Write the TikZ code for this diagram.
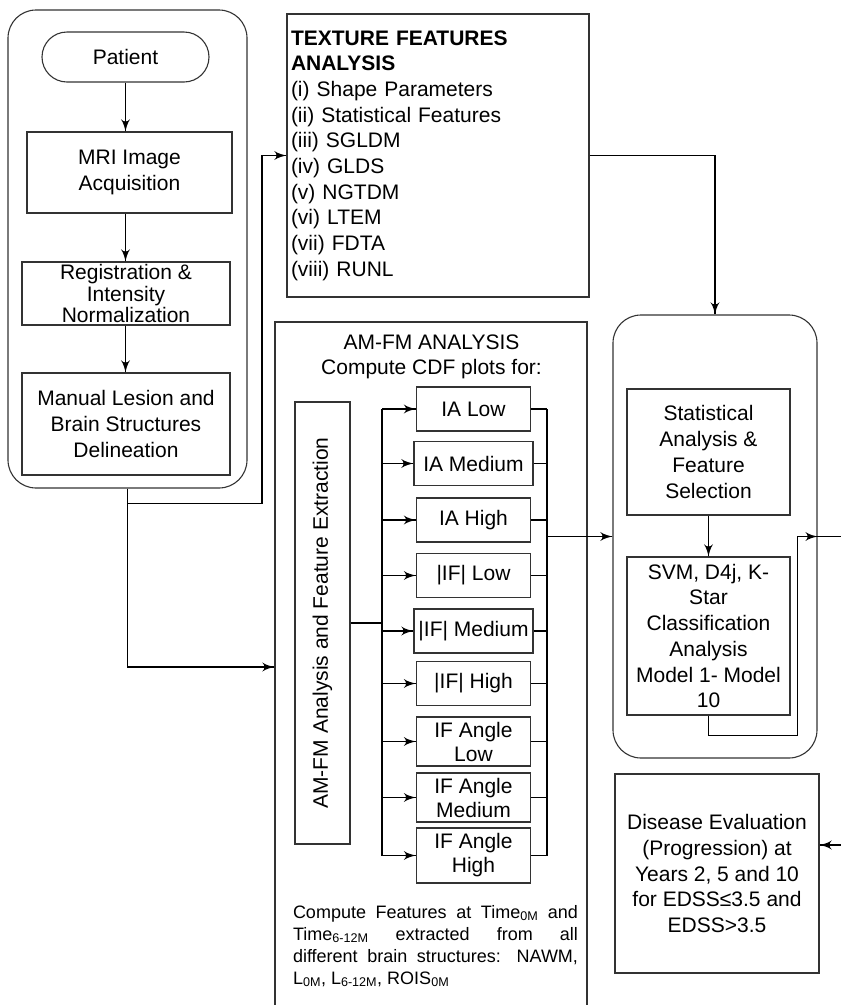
\documentclass[tikz,border=0pt]{standalone}
\usepackage{fontspec}
\setmainfont{Liberation Sans}
\usepackage{tikz}
\usetikzlibrary{arrows}
\usetikzlibrary{decorations.markings}
\usetikzlibrary{positioning}
\tikzset{->/.style = {decoration={markings,
                                  mark=at position 1 with {\arrow[scale=2]{latex'}}},
                      postaction={decorate}}}
\tikzset{block/.style = {draw = black!80, rectangle, align = center, inner sep = 2,
                         font = \fontsize{21}{25.7}\selectfont}}
\tikzset{group/.style = {draw = black!80, rectangle, rounded corners = 28}}
\tikzset{cdf/.style = {block, minimum width = 114, minimum height = 44}}

\begin{document}
\begin{tikzpicture}[x = 1pt, y = -1pt, line width = 1.1pt]
      \useasboundingbox (0, 0) rectangle (841, 1005);

      \node [group, minimum width = 239, minimum height = 478] (prep) at (127.5, 249) {};
      \node [block, rounded corners = 25, minimum width = 167, minimum height = 50] (patient) at (125.5, 57) {Patient};
      \node [block, minimum width = 205, minimum height = 81] (mri) at (129.5, 172.5) {MRI Image\\Acquisition};
      \node [block, inner ysep = 0, minimum width = 208, minimum height = 63,
             font = \fontsize{21}{21.5}\selectfont] (reg) at (126, 293.5) {Registration \&\\Intensity\\Normalization};
      \node [block, minimum width = 208, minimum height = 102] (manual) at (126, 424) {Manual Lesion and\\Brain Structures\\Delineation};

      \draw [->] (patient.south) -- (patient.south |- mri.north);
      \draw [->] (mri.south -| patient.south) -- (patient.south |- reg.north);
      \draw [->] (reg.south -| patient.south) -- (patient.south |- manual.north);

      \node [block, align = left, text width = 294, inner sep = 4, minimum height = 283] (texture) at (438, 155.5)
            {\textbf{TEXTURE FEATURES}\\\textbf{ANALYSIS}\\(i) Shape Parameters\\(ii) Statistical Features\\(iii) SGLDM\\(iv) GLDS\\(v) NGTDM\\(vi) LTEM\\(vii) FDTA\\(viii) RUNL};

      \node [draw = black!80, minimum width = 312, minimum height = 700] (amfm) at (431, 672) {};
      \node [align = center, font = \fontsize{21}{25}\selectfont] (amtitle) at (431.5, 357) {AM-FM ANALYSIS\\Compute CDF plots for:};
      \node [block, rotate = 90, minimum width = 442, minimum height = 55] (extract) at (322.5, 623) {AM-FM Analysis and Feature Extraction};

      \node [cdf] (ialow) at (473.5, 409) {IA Low};
      \node [cdf, minimum width = 119] (iamed) at (473.5, 463.5) {IA Medium};
      \node [cdf] (iahigh) at (473.5, 520) {IA High};
      \node [cdf] (iflow) at (473.5, 575.5) {|IF| Low};
      \node [cdf, minimum width = 119, inner xsep = 1] (ifmed) at (473.5, 631) {|IF| Medium};
      \node [cdf] (ifhigh) at (473.5, 683.5) {|IF| High};
      \node [cdf, inner ysep = 0, minimum height = 49, font = \fontsize{21}{24}\selectfont] (ifalow) at (473.5, 741.5) {IF Angle\\Low};
      \node [cdf, inner ysep = 0, minimum height = 49, font = \fontsize{21}{24}\selectfont] (ifamed) at (473.5, 797.5) {IF Angle\\Medium};
      \node [cdf, inner ysep = 0, minimum height = 55, font = \fontsize{21}{24}\selectfont] (ifahigh) at (473.5, 855.5) {IF Angle\\High};

      \coordinate (split) at (382, 623);
      \coordinate (merge) at (547, 536.5);

      \draw (extract.south) -- (split);
      \draw (split |- ialow) -- (split |- ifahigh);
      \draw [->] (split |- ialow) -- (ialow);
      \draw [->] (split |- iamed) -- (iamed);
      \draw [->] (split |- iahigh) -- (iahigh);
      \draw [->] (split |- iflow) -- (iflow);
      \draw [->] (split |- ifmed) -- (ifmed);
      \draw [->] (split |- ifhigh) -- (ifhigh);
      \draw [->] (split |- ifalow) -- (ifalow);
      \draw [->] (split |- ifamed) -- (ifamed);
      \draw [->] (split |- ifahigh) -- (ifahigh);

      \draw (ialow) -- (merge |- ialow);
      \draw (iamed) -- (merge |- iamed);
      \draw (iahigh) -- (merge |- iahigh);
      \draw (iflow) -- (merge |- iflow);
      \draw (ifmed) -- (merge |- ifmed);
      \draw (ifhigh) -- (merge |- ifhigh);
      \draw (ifalow) -- (merge |- ifalow);
      \draw (ifamed) -- (merge |- ifamed);
      \draw (ifahigh) -- (merge |- ifahigh);
      \draw (merge |- ialow) -- (merge |- ifahigh);

      \node [align = justify, text width = 285, inner sep = 0, font = \fontsize{18}{22}\selectfont] (note) at (435.5, 946)
            {Compute Features at Time\textsubscript{0M} and\linebreak Time\textsubscript{6-12M} extracted from all\linebreak different brain structures: NAWM,\linebreak L\textsubscript{0M}, L\textsubscript{6-12M}, ROIS\textsubscript{0M}};

      \node [group, minimum width = 204, minimum height = 443] (stats) at (715, 536.5) {};
      \node [block, minimum width = 163, minimum height = 126] (select) at (708.5, 452) {Statistical\\Analysis \&\\Feature\\Selection};
      \node [block, minimum width = 163, minimum height = 158] (classify) at (708.5, 636) {SVM, D4j, K-\\Star\\Classification\\Analysis\\Model 1- Model\\10};

      \node [block, minimum width = 204, minimum height = 199] (disease) at (717, 873.5)
            {Disease Evaluation\\(Progression) at\\Years 2, 5 and 10\\for EDSS≤3.5 and\\EDSS>3.5};

      \draw [->] (select) -- (classify);
      \draw [->] (classify.south) -- ++(0, 20) -| ([xshift = -20]stats.east) -- (stats.east);
      \draw [->] (stats.east) -- (846, 536.5) |- ([yshift = 28.5]disease.east);

      \draw [->] (merge) -- (stats.west);
      \draw [->] (texture.east) -| (stats.north);
      \draw [->] (prep.south) -- ++(0, 15) -| (262, 155.5) -- (texture.west);
      \draw [->] (prep.south) |- ([yshift = 5]amfm.west);
    \end{tikzpicture}
\end{document}
